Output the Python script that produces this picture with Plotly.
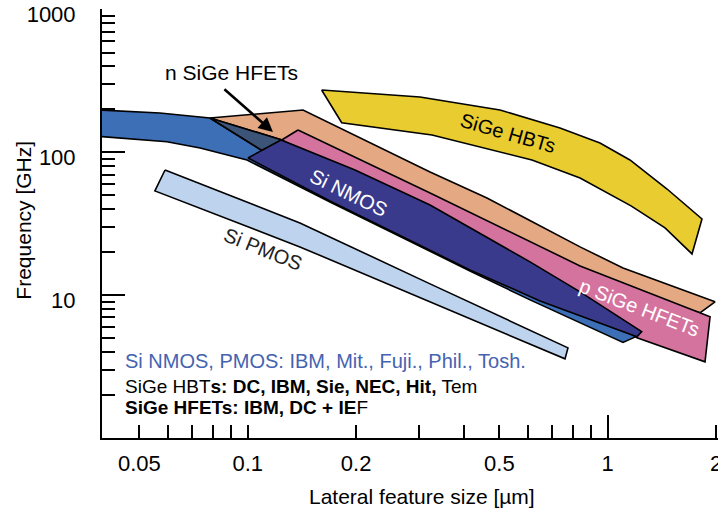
import math
import plotly.graph_objects as go

# ---------------- data (feature size in um, frequency in GHz) ----------------
# SiGe HBTs band: upper edge left->right, then lower edge right->left
hbt_x = [0.1604, 0.3009, 0.502, 0.737, 0.952, 1.153, 1.462, 1.828,
         1.715, 1.443, 1.161, 0.838, 0.616, 0.325, 0.1824]
hbt_y = [273.3, 244.2, 198.0, 148.2, 116.4, 88.5, 55.4, 34.2,
         19.45, 29.6, 42.2, 66.2, 88.5, 132.4, 161.4]

# Si PMOS band
pmos_x = [0.0589, 0.1396, 0.321, 0.7757, 0.761, 0.321, 0.1396, 0.0552]
pmos_y = [75.3, 32.06, 12.0, 4.277, 3.583, 8.98, 21.78, 53.7]

# Si NMOS (long-channel, curved) band
nband_x = [0.0388, 0.0570, 0.0785, 0.1095, 0.1396, 0.2648, 0.6487, 1.229,
           1.103, 0.6085, 0.4143, 0.1692, 0.0995, 0.0737, 0.0596, 0.0388]
nband_y = [198.0, 188.7, 174.1, 103.1, 75.3, 34.75, 10.55, 5.275,
           4.674, 9.27, 14.79, 44.97, 88.5, 107.4, 118.8, 129.2]

# n SiGe HFETs
nhfet_x = [0.0785, 0.1424, 0.321, 0.462, 0.838, 1.103, 1.987, 1.805, 0.838, 0.321, 0.1245]
nhfet_y = [174.1, 198.0, 72.9, 47.96, 21.78, 15.52, 8.98, 7.52, 13.87, 42.85, 122.1]

# p SiGe HFETs
phfet_x = [0.1379, 0.321, 0.838, 1.925, 1.864, 1.206, 0.838, 0.321, 0.1396, 0.1242]
phfet_y = [143.5, 51.98, 16.03, 7.05, 3.414, 5.026, 9.27, 36.48, 103.9, 122.1]

# overlap of n SiGe HFET and Si NMOS band
overlap_x = [0.0785, 0.1245, 0.1095]
overlap_y = [174.1, 122.1, 103.1]

# Si NMOS (short-channel) region
nmos_x = [0.1001, 0.1237, 0.1986, 0.321, 0.6085, 0.838, 1.243, 1.206, 0.6487, 0.4143, 0.1692]
nmos_y = [91.4, 122.1, 75.3, 42.85, 17.1, 10.55, 5.564, 5.108, 9.12, 15.03, 45.7]

x_major = [0.05, 0.1, 0.2, 0.5, 1, 2]
x_major_text = ["0.05", "0.1", "0.2", "0.5", "1", "2"]
x_minor = [0.06, 0.07, 0.08, 0.09, 0.3, 0.4, 0.6, 0.7, 0.8, 0.9]
y_major = [10, 100, 1000]
y_major_text = ["10", "100", "1000"]
y_minor = [m * d for d in (1, 10, 100) for m in range(2, 10)]

FONT = "Liberation Sans, Arial, Helvetica, sans-serif"


def closed(xs, ys):
    return list(xs) + [xs[0]], list(ys) + [ys[0]]


shapes = [
    (hbt_x, hbt_y, "#e9cd30"),
    (pmos_x, pmos_y, "#bed3ee"),
    (nband_x, nband_y, "#3d6fb6"),
    (nhfet_x, nhfet_y, "#e4a882"),
    (phfet_x, phfet_y, "#d5739f"),
    (overlap_x, overlap_y, "#3d5479"),
    (nmos_x, nmos_y, "#3a3a8c"),
]

fig = go.Figure()
for xs, ys, col in shapes:
    cx, cy = closed(xs, ys)
    fig.add_trace(go.Scatter(x=cx, y=cy, mode="lines", fill="toself",
                             fillcolor=col, line=dict(color="black", width=1.6),
                             hoverinfo="skip", showlegend=False))

L = math.log10

ann = [
    dict(text="n SiGe HFETs", x=L(0.0901), y=L(362), size=21, color="black", angle=0),
    dict(text="SiGe HBTs", x=L(0.527), y=L(136), size=20, color="black", angle=16),
    dict(text="Si NMOS", x=L(0.191), y=L(52), size=20, color="white", angle=26),
    dict(text="Si PMOS", x=L(0.1099), y=L(21.1), size=20, color="#222222", angle=22),
    dict(text="p SiGe HFETs", x=L(1.229), y=L(8.15), size=20, color="white", angle=21),
]
annotations = []
for a in ann:
    annotations.append(dict(text=a["text"], x=a["x"], y=a["y"], xref="x", yref="y",
                            showarrow=False, textangle=a["angle"],
                            font=dict(family=FONT, size=a["size"], color=a["color"])))

# arrow pointing at the n SiGe HFET region
annotations.append(dict(text="", x=L(0.1175), y=L(138.9), xref="x", yref="y",
                        ax=L(0.0853), ay=L(282.3), axref="x", ayref="y",
                        showarrow=True, arrowhead=2, arrowsize=1.1, arrowwidth=2.6,
                        arrowcolor="black", standoff=0))

notes = [
    ("Si NMOS, PMOS: IBM, Mit., Fuji., Phil., Tosh.", "#4463b0", 0.1786, 20),
    ("SiGe HBT<b>s: DC, IBM, Sie, NEC, Hit,</b> Tem", "black", 0.1203, 19),
    ("<b>SiGe HFETs: IBM, DC + IE</b>F", "black", 0.0707, 19),
]
for t, c, yy, sz in notes:
    annotations.append(dict(text=t, x=0.034, y=yy, xref="paper", yref="paper",
                            xanchor="left", yanchor="middle", showarrow=False,
                            font=dict(family=FONT, size=sz, color=c)))

annotations.append(dict(text="Lateral feature size [\u00b5m]", x=0.519, y=-0.137,
                        xref="paper", yref="paper", showarrow=False,
                        xanchor="center", yanchor="middle",
                        font=dict(family=FONT, size=21, color="black")))
annotations.append(dict(text="Frequency [GHz]", x=-0.128, y=0.507,
                        xref="paper", yref="paper", showarrow=False, textangle=-90,
                        xanchor="center", yanchor="middle",
                        font=dict(family=FONT, size=21, color="black")))

xrange = [-1.405, 0.3065]
fig.update_layout(
    width=718, height=515,
    margin=dict(l=102, r=0, t=9, b=77, autoexpand=False),
    paper_bgcolor="white", plot_bgcolor="white",
    font=dict(family=FONT, color="black"),
    showlegend=False,
    annotations=annotations,
    xaxis=dict(type="log", range=xrange, showgrid=False, zeroline=False,
               automargin=False,
               showline=True, linecolor="black", linewidth=2,
               ticks="inside", ticklen=13, tickwidth=1.6, tickcolor="black",
               tickmode="array", tickvals=x_major, ticktext=x_major_text,
               tickfont=dict(family=FONT, size=22, color="black"),
               ticklabelstandoff=5, ticklabeloverflow="allow",
               minor=dict(tickmode="array", tickvals=x_minor, ticks="inside",
                          ticklen=13, tickwidth=1.6, tickcolor="black", showgrid=False)),
    xaxis2=dict(type="log", range=xrange, overlaying="x", anchor="y", side="bottom",
                automargin=False,
                showgrid=False, zeroline=False, showline=False,
                ticks="inside", ticklen=23, tickwidth=2, tickcolor="black",
                tickmode="array", tickvals=[1], showticklabels=False),
    yaxis=dict(type="log", range=[0, 3.004], showgrid=False, zeroline=False,
               automargin=False,
               showline=True, linecolor="black", linewidth=2,
               ticks="inside", ticklen=23, tickwidth=1.6, tickcolor="black",
               tickmode="array", tickvals=y_major, ticktext=y_major_text,
               tickfont=dict(family=FONT, size=22, color="black"),
               ticklabelstandoff=20, ticklabelshift=5, ticklabeloverflow="allow",
               minor=dict(tickmode="array", tickvals=y_minor, ticks="inside",
                          ticklen=13, tickwidth=1.6, tickcolor="black", showgrid=False)),
)
# invisible helper trace to activate xaxis2 (long tick at 1)
fig.add_trace(go.Scatter(x=[1], y=[1], xaxis="x2", yaxis="y", mode="markers",
                         marker=dict(opacity=0), hoverinfo="skip", showlegend=False))

fig.write_html("out.html", config={"displayModeBar": False},
               post_script="document.body.style.margin='0';")
